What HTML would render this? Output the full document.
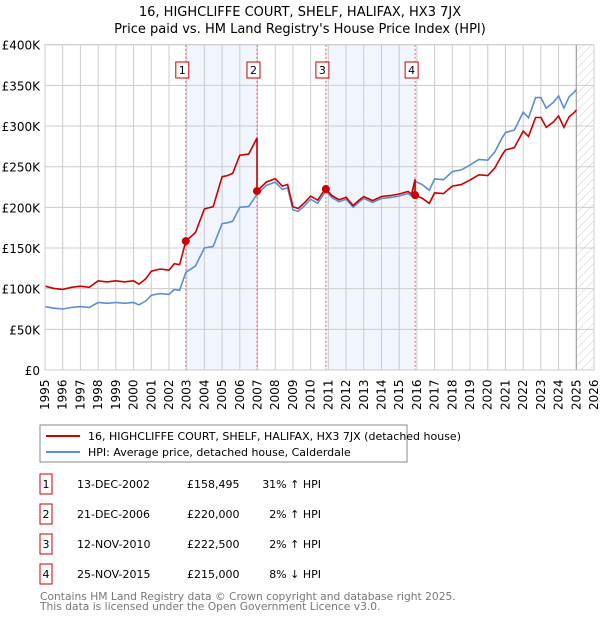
<!DOCTYPE html>
<html><head><meta charset="utf-8"><style>
body{margin:0;background:#fff;font-family:"Liberation Sans","DejaVu Sans",sans-serif;}
svg text{font-family:"DejaVu Sans","Liberation Sans",sans-serif;}
</style></head><body>
<svg id="c" width="600" height="620" xmlns="http://www.w3.org/2000/svg">
<text x="300" y="16" text-anchor="middle" font-size="13" fill="#000">16, HIGHCLIFFE COURT, SHELF, HALIFAX, HX3 7JX</text>
<text x="300" y="33" text-anchor="middle" font-size="13" fill="#000">Price paid vs. HM Land Registry's House Price Index (HPI)</text>
<defs><pattern id="hatch" width="6" height="6" patternUnits="userSpaceOnUse" patternTransform="rotate(45)"><line x1="0" y1="0" x2="0" y2="6" stroke="#ccc" stroke-width="1"/></pattern></defs>
<g id="plot"></g>
<rect x="40" y="425" width="367" height="37" fill="#fff" stroke="#888"/>
<line x1="46" y1="436" x2="80" y2="436" stroke="#cc0000" stroke-width="2"/>
<text x="88" y="440" font-size="11">16, HIGHCLIFFE COURT, SHELF, HALIFAX, HX3 7JX (detached house)</text>
<line x1="46" y1="452" x2="80" y2="452" stroke="#5b8fd4" stroke-width="2"/>
<text x="88" y="456" font-size="11">HPI: Average price, detached house, Calderdale</text>
<g id="table" font-size="11"></g>
<text x="40" y="600" font-size="10.7" fill="#777">Contains HM Land Registry data © Crown copyright and database right 2025.</text>
<text x="40" y="610" font-size="10.7" fill="#777">This data is licensed under the Open Government Licence v3.0.</text>
</svg>
<script>
const hpiYears=[1995,1995.5,1996,1996.5,1997,1997.5,1998,1998.5,1999,1999.5,2000,2000.3,2000.7,2001,2001.5,2002,2002.3,2002.6,2002.95,2003.5,2004,2004.5,2005,2005.3,2005.6,2006,2006.5,2006.97,2007.5,2008,2008.4,2008.7,2009,2009.3,2009.7,2010,2010.4,2010.86,2011.2,2011.6,2012,2012.4,2012.7,2013,2013.5,2014,2014.5,2015,2015.5,2015.7,2015.9,2016.3,2016.7,2017,2017.5,2018,2018.5,2019,2019.5,2020,2020.4,2020.8,2021,2021.5,2022,2022.3,2022.7,2023,2023.3,2023.7,2024,2024.3,2024.6,2024.9,2025.0];
const hpiValues=[78,76,75,77,78,77,83,82,83,82,83,80,85,92,94,93,99,98,120,128,150,152,180,181,183,200,201,216,227,231,222,224,197,195,203,210,205,220,212,207,210,200,206,211,206,211,212,214,217,214,232,228,221,235,234,244,246,252,259,258,268,285,292,295,317,310,335,335,322,329,337,322,336,342,345];
const saleYears=[2002.95,2006.97,2010.86,2015.9];
const salePrices=[158495,220000,222500,215000];
const saleLabels=["1","2","3","4"];
const saleDates=["13-DEC-2002","21-DEC-2006","12-NOV-2010","25-NOV-2015"];
const salePriceText=["£158,495","£220,000","£222,500","£215,000"];
const saleHpiText=["31% ↑ HPI","2% ↑ HPI","2% ↑ HPI","8% ↓ HPI"];
const yTicks=[0,50,100,150,200,250,300,350,400];
const yTickLabels=["£0","£50K","£100K","£150K","£200K","£250K","£300K","£350K","£400K"];

const NS="http://www.w3.org/2000/svg";
const X0=45,X1=594,Y0=370,Y1=44.7,YR0=1995,YR1=2026;
const xs=y=>X0+(y-YR0)/(YR1-YR0)*(X1-X0);
const ys=v=>Y0-v/400*(Y0-Y1);
const g=document.getElementById('plot');
function mk(t,a,p){const e=document.createElementNS(NS,t);for(const k in a)e.setAttribute(k,a[k]);(p||g).appendChild(e);return e;}
function hpiAt(y){for(let i=0;i<hpiYears.length-1;i++){if(y>=hpiYears[i]&&y<=hpiYears[i+1]){const t=(y-hpiYears[i])/(hpiYears[i+1]-hpiYears[i]);return hpiValues[i]+t*(hpiValues[i+1]-hpiValues[i]);}}return hpiValues[hpiValues.length-1];}
for(let i=0;i<saleYears.length;i+=2){
 const r=mk('rect',{x:xs(saleYears[i]),y:Y1,width:xs(saleYears[i+1])-xs(saleYears[i]),height:Y0-Y1,fill:'#eef3fc',opacity:0.8});
 
 
}
const h=mk('rect',{x:xs(2025.0),y:Y1,width:X1-xs(2025.0),height:Y0-Y1,fill:'url(#hatch)'});


for(let yr=YR0;yr<=YR1;yr++){
 const l=mk('line',{x1:xs(yr),x2:xs(yr),y1:Y1,y2:Y0,stroke:'#ccc','stroke-width':1});
 
 
 const t=mk('text',{x:0,y:0,'font-size':12,transform:`translate(${xs(yr)+4},${410}) rotate(-90)`});
 t.textContent=yr;
 
 
}
yTicks.forEach((v,i)=>{
 const l=mk('line',{x1:X0,x2:X1,y1:ys(v),y2:ys(v),stroke:'#ccc','stroke-width':1});
 
 
 const t=mk('text',{x:40,y:ys(v)+5,'font-size':12,'text-anchor':'end'});
 t.textContent=yTickLabels[i];
 
 
});
const dl=mk('line',{x1:xs(2025.0),x2:xs(2025.0),y1:Y1,y2:Y0,stroke:'#999','stroke-width':1});


saleYears.forEach((sy,i)=>{
 const l=mk('line',{x1:xs(sy),x2:xs(sy),y1:Y1,y2:Y0,stroke:'#e06060','stroke-width':1,'stroke-dasharray':'2,2'});
 
 
 const r=mk('rect',{x:xs(sy)-10,y:62,width:13,height:16,fill:'#fff',stroke:'#cc0000'});
 
 
 const t=mk('text',{x:xs(sy)-3.5,y:74,'font-size':11,'text-anchor':'middle'});
 t.textContent=saleLabels[i];
 
 
});
let d='';hpiYears.forEach((y,i)=>{d+=(i?'L':'M')+xs(y).toFixed(1)+','+ys(hpiValues[i]).toFixed(1);});
const hl=mk('path',{d,fill:'none',stroke:'#5b8fd4','stroke-width':1.6});


function saleIdx(y){let k=0;for(let i=0;i<saleYears.length;i++)if(y>=saleYears[i])k=i;return k;}
let d2='';
const pts=[...hpiYears];saleYears.forEach(s=>{pts.push(s-0.001);pts.push(s);});pts.sort((a,b)=>a-b);
pts.forEach((y,i)=>{const k=saleIdx(y);const v=salePrices[k]/1000*hpiAt(y)/hpiAt(saleYears[k]);d2+=(i?'L':'M')+xs(y).toFixed(1)+','+ys(v).toFixed(1);});
const pl=mk('path',{d:d2,fill:'none',stroke:'#cc0000','stroke-width':1.6});


saleYears.forEach((sy,i)=>{
 const c=mk('circle',{cx:xs(sy),cy:ys(salePrices[i]/1000),r:4,fill:'#cc0000'});
 
 
});
mk('rect',{x:X0,y:Y1,width:X1-X0,height:Y0-Y1,fill:'none',stroke:'#ccc'});
const tb=document.getElementById('table');
const rowY=[484,514,544,574];
saleYears.forEach((sy,i)=>{
 const r=mk('rect',{x:40,y:rowY[i]-10,width:12,height:20,fill:'#fff',stroke:'#cc0000'},tb);
 
 
 const cells=[[46,saleLabels[i],'middle'],[77,saleDates[i],'start'],[187,salePriceText[i],'start'],[321,saleHpiText[i],'end']];
 cells.forEach(([x,txt,a],j)=>{
  const t=mk('text',{x,y:rowY[i]+4,'text-anchor':a,'font-size':11},tb);
  t.textContent=txt;
  
  
 });
});
</script>
</body></html>
